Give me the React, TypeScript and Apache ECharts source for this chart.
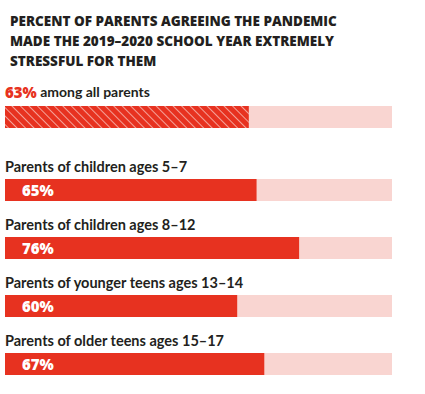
import React, { useEffect, useRef } from "react";
import * as echarts from "echarts";

const titleLines = [
  "PERCENT OF PARENTS AGREEING THE PANDEMIC",
  "MADE THE 2019–2020 SCHOOL YEAR EXTREMELY",
  "STRESSFUL FOR THEM",
];
const overallLabel = "among all parents";
const overallValue = [63];
const groupCategories = [
  "Parents of children ages 5–7",
  "Parents of children ages 8–12",
  "Parents of younger teens ages 13–14",
  "Parents of older teens ages 15–17",
];
const groupValues = [65, 76, 60, 67];
const fullScale = [100, 100, 100, 100];

const RED = "#E73220";
const PINK = "#F9D5D1";
const DARK = "#231F20";
const FONT = "Lato";
const HEAVY = "Open Sans";

export default function App() {
  const ref = useRef<HTMLDivElement>(null);
  useEffect(() => {
    if (!ref.current) return;
    const chart = echarts.init(ref.current, null, { renderer: "svg" });
    chart.setOption({
      animation: false,
      backgroundColor: "#ffffff",
      title: {
        text: titleLines.join("\n"),
        left: 5,
        top: 6,
        textStyle: {
          fontFamily: HEAVY,
          fontWeight: 800,
          fontSize: 13.5,
          lineHeight: 20,
          color: DARK,
        },
      },
      grid: [
        { left: 5, width: 387, top: 106, height: 22 },
        { left: 5, width: 387, top: 161, height: 232 },
      ],
      xAxis: [
        { type: "value", gridIndex: 0, min: 0, max: 100, show: false },
        { type: "value", gridIndex: 1, min: 0, max: 100, show: false },
      ],
      yAxis: [
        { type: "category", gridIndex: 0, data: ["all"], show: false },
        { type: "category", gridIndex: 1, data: groupCategories, inverse: true, show: false },
      ],
      series: [
        {
          type: "bar",
          xAxisIndex: 0,
          yAxisIndex: 0,
          data: [100],
          barWidth: 22,
          barGap: "-100%",
          itemStyle: { color: PINK },
          silent: true,
          label: {
            show: true,
            position: [0, -7],
            align: "left",
            verticalAlign: "bottom",
            formatter: () => `{v|${overallValue[0]}%} {t|${overallLabel}}`,
            rich: {
              v: { fontFamily: HEAVY, fontWeight: 800, fontSize: 15, color: RED },
              t: { fontFamily: FONT, fontWeight: "bold", fontSize: 14, color: DARK },
            },
          },
        },
        {
          type: "bar",
          xAxisIndex: 0,
          yAxisIndex: 0,
          data: overallValue,
          barWidth: 22,
          barGap: "-100%",
          z: 3,
          itemStyle: {
            color: RED,
            decal: {
              symbol: "rect",
              color: "rgba(255,255,255,0.55)",
              dashArrayX: [1, 0],
              dashArrayY: [1, 5],
              rotation: Math.PI / 4,
            },
          },
        },
        {
          type: "bar",
          xAxisIndex: 1,
          yAxisIndex: 1,
          data: fullScale,
          barWidth: 22,
          barGap: "-100%",
          itemStyle: { color: PINK },
          label: {
            show: true,
            position: [0, -5],
            align: "left",
            verticalAlign: "bottom",
            formatter: (p: any) => groupCategories[p.dataIndex],
            fontFamily: FONT,
            fontWeight: "bold",
            fontSize: 14.5,
            color: DARK,
          },
        },
        {
          type: "bar",
          xAxisIndex: 1,
          yAxisIndex: 1,
          data: groupValues,
          barWidth: 22,
          barGap: "-100%",
          z: 3,
          itemStyle: { color: RED },
          label: {
            show: true,
            position: "insideLeft",
            distance: 17,
            formatter: "{c}%",
            fontFamily: HEAVY,
            fontWeight: 800,
            fontSize: 15,
            color: "#ffffff",
          },
        },
      ],
    });
    return () => chart.dispose();
  }, []);
  return <div ref={ref} style={{ width: 425, height: 394, position: "absolute", left: 0, top: 0 }} />;
}
